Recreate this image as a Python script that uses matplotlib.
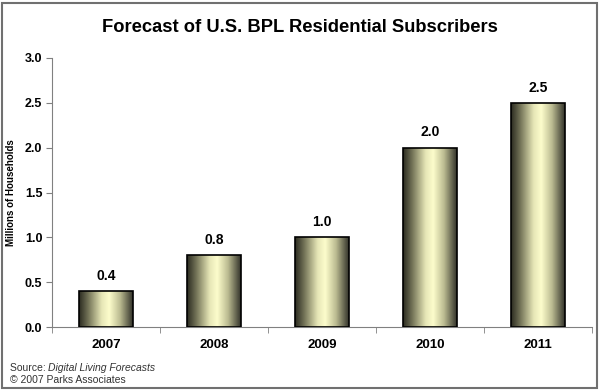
import numpy as np
import matplotlib.pyplot as plt
from matplotlib.colors import LinearSegmentedColormap
from matplotlib.patches import Rectangle

plt.rcParams['font.family'] = ['Liberation Sans', 'DejaVu Sans']

# data
years = ["2007", "2008", "2009", "2010", "2011"]
subscribers = [0.4, 0.8, 1.0, 2.0, 2.5]

fig = plt.figure(figsize=(6, 3.9), dpi=100)
ax = fig.add_axes([52 / 600, 1 - 327 / 390, 540 / 600, 269 / 390])

x = np.arange(len(years))
bars = ax.bar(x, subscribers, width=0.5, facecolor="none", edgecolor="black", linewidth=1.2, zorder=3)

# cylinder-like shading for the bars
shade = LinearSegmentedColormap.from_list("cyl", [
    (0.0, "#2a2a20"), (0.18, "#77775a"), (0.42, "#e6e6b6"),
    (0.56, "#fdfdcc"), (0.76, "#bcbc92"), (1.0, "#33332a")])
grad = np.linspace(0, 1, 256).reshape(1, -1)
for b in bars:
    x0, w, h = b.get_x(), b.get_width(), b.get_height()
    im = ax.imshow(grad, cmap=shade, aspect="auto", extent=(x0, x0 + w, 0, h), zorder=2)
    im.set_clip_path(b)

for xi, v in zip(x, subscribers):
    ax.annotate(f"{v:.1f}", (xi, v), xytext=(0, 6), textcoords="offset points",
                ha="center", va="bottom", fontsize=10, fontweight="bold")

ax.set_xlim(-0.5, len(years) - 0.5)
ax.set_ylim(0, 3.0)
ax.set_yticks(np.arange(0, 3.01, 0.5))
ax.set_yticklabels([f"{t:.1f}" for t in np.arange(0, 3.01, 0.5)], fontsize=9, fontweight="bold")
ax.set_xticks(x)
ax.set_xticklabels(years, fontsize=9.5, fontweight="bold")
ax.set_xticks(np.arange(-0.5, len(years)), minor=True)
ax.tick_params(axis="x", which="major", length=0, pad=9)
ax.tick_params(axis="x", which="minor", length=4, color="#808080")
ax.tick_params(axis="y", length=4, color="#808080", pad=3)

for s in ["top", "right"]:
    ax.spines[s].set_visible(False)
for s in ["left", "bottom"]:
    ax.spines[s].set_color("#808080")

ax.set_ylabel("Millions of Households", fontsize=7, fontweight="bold", labelpad=6)

fig.text(0.5, 1 - 27 / 390, "Forecast of U.S. BPL Residential Subscribers",
         ha="center", va="center", fontsize=13.2, fontweight="bold")
fig.text(10 / 600, 1 - 368 / 390, "Source:  ", ha="left", va="center", fontsize=7.5, color="#333333")
fig.text(48 / 600, 1 - 368 / 390, "Digital Living Forecasts", ha="left", va="center",
         fontsize=7.5, style="italic", color="#333333")
fig.text(10 / 600, 1 - 380 / 390, "\u00a9 2007 Parks Associates", ha="left", va="center",
         fontsize=7.5, color="#333333")

fig.patches.append(Rectangle((2 / 600, 2 / 390), 595 / 600, 385 / 390, transform=fig.transFigure,
                             fill=False, edgecolor="#707070", linewidth=1.5))

fig.savefig("out.png", dpi=100)
